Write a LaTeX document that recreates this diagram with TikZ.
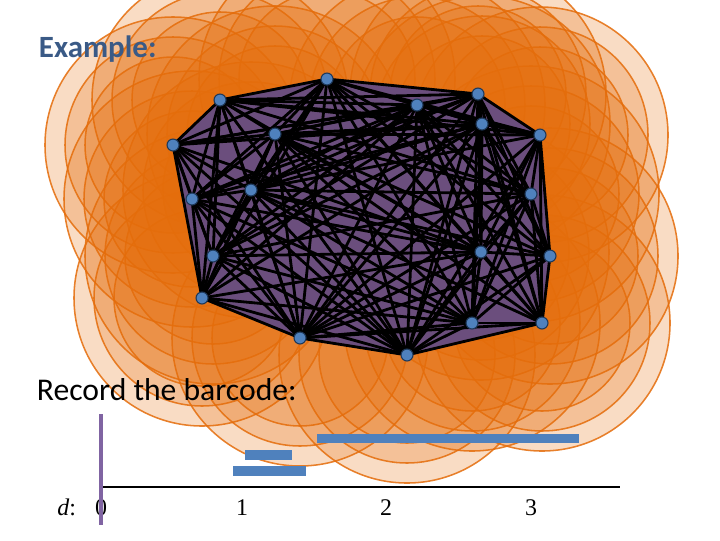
\documentclass[tikz,border=0pt]{standalone}
\usepackage{fontspec}
\setmainfont{Carlito}
\newfontfamily\numfont{Liberation Serif}
\usetikzlibrary{positioning}
\definecolor{diskorange}{HTML}{E46C0A}
\definecolor{hullpurple}{HTML}{6B4E7D}
\definecolor{dotblue}{HTML}{4F81BD}
\definecolor{dotrim}{HTML}{1F3A5C}
\definecolor{titleblue}{HTML}{3A5A86}
\definecolor{axispurple}{HTML}{8064A2}

\begin{document}
\begin{tikzpicture}[x=0.025cm,y=-0.025cm,
  disk/.style={fill=diskorange,fill opacity=0.24,draw=diskorange,draw opacity=0.85,line width=1.1pt},
  edge/.style={line width=2pt,black},
  dot/.style={circle,fill=dotblue,draw=dotrim,line width=0.8pt,minimum size=8.5pt,inner sep=0pt},
  bar/.style={fill=dotblue},
  tick/.style={font=\numfont\fontsize{17}{17}\selectfont,anchor=base}]
\useasboundingbox (0,0) rectangle (720,540);
\def\xs{{327,220,417,478,482,540,173,275,192,251,531,213,481,550,202,300,407,472,542}}
\def\ys{{79,100,105,94,124,135,145,134,199,190,194,256,252,256,298,338,355,323,323}}
\foreach \n in {1,...,19}{
  \pgfmathtruncatemacro\a{\n-1}
  \pgfmathsetmacro\px{\xs[\a]}\pgfmathsetmacro\py{\ys[\a]}
  \coordinate (p\n) at (\px,\py);}
% growing balls
\foreach \r in {128,108,88}
  \foreach \n in {1,...,19} \path[disk] (p\n) circle[radius=\r];
\fill[hullpurple] (p7)--(p2)--(p1)--(p4)--(p6)--(p14)--(p19)--(p17)--(p16)--(p15)--cycle;
% edges of the complex
\foreach \i in {1,...,18}{
  \pgfmathtruncatemacro\k{\i+1}
  \foreach \j in {\k,...,19}{
    \pgfmathtruncatemacro\a{\i-1}\pgfmathtruncatemacro\b{\j-1}
    \pgfmathsetmacro\d{veclen(\xs[\a]-\xs[\b],\ys[\a]-\ys[\b])}
    \ifdim\d pt<330pt \draw[edge] (p\i)--(p\j); \fi}}
\foreach \n in {1,...,19} \node[dot] (v\n) at (p\n) {};
\node[anchor=base west,font=\bfseries\fontsize{22}{24}\selectfont,text=titleblue] (title) at (34,57) {Example:};
\node[anchor=base west,font=\fontsize{22.5}{26}\selectfont] (rec) at (32,400) {Record the barcode:};
% barcode
\fill[bar] (317,434) rectangle (579,443);
\fill[bar] (245,450) rectangle (292,460);
\fill[bar] (233,466) rectangle (306,476);
\coordinate (o) at (101,487); \coordinate (dmax) at (620,487);
\draw[line width=2pt] (o)--(dmax);
\foreach \v/\x in {0/101,1/242,2/386,3/531} \node[tick] (t\v) at (\x,515) {\v};
\node[tick,anchor=base east] (dlab) at (81,515) {\textit{d}:};
\coordinate (ztop) at (101,414); \coordinate (zbot) at (101,525);
\draw[axispurple,line width=2.6pt] (ztop)--(zbot);
\end{tikzpicture}
\end{document}
